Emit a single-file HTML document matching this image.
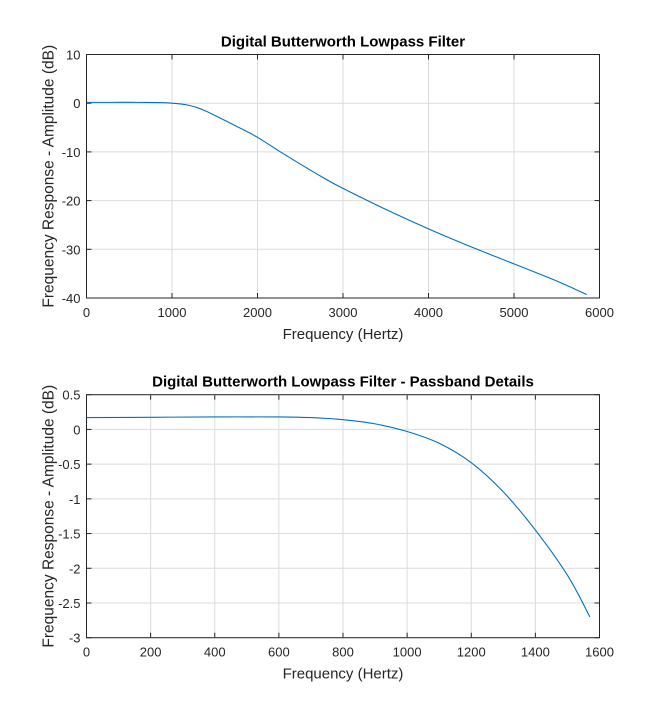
<!DOCTYPE html>
<html><head><meta charset="utf-8">
<style>
body{margin:0;background:#fff;}
svg{display:block;font-family:"Liberation Sans",Arial,sans-serif;}
</style></head>
<body>
<svg id="chart" width="663" height="718" viewBox="0 0 663 718"></svg>
<script>
const topX=[0,300,600,900,1000,1100,1200,1300,1400,1500,1750,2000,2250,2500,2750,3000,3500,4000,4500,5000,5500,5850];
const topY=[0.17,0.17,0.17,0.1,0,-0.15,-0.45,-0.95,-1.65,-2.5,-4.7,-7,-9.8,-12.5,-15.1,-17.5,-21.8,-25.8,-29.5,-33,-36.5,-39.3];
const topXTicks=[0,1000,2000,3000,4000,5000,6000];
const topYTicks=[10,0,-10,-20,-30,-40];
const botX=[0,200,400,600,700,800,900,1000,1100,1200,1300,1400,1500,1570];
const botY=[0.17,0.175,0.18,0.18,0.17,0.14,0.08,-0.03,-0.2,-0.48,-0.9,-1.45,-2.1,-2.7];
const botXTicks=[0,200,400,600,800,1000,1200,1400,1600];
const botYTicks=[0.5,0,-0.5,-1,-1.5,-2,-2.5,-3];
const NS='http://www.w3.org/2000/svg';
const svg=document.getElementById('chart');
function mk(tag,attrs,parent){const e=document.createElementNS(NS,tag);for(const k in attrs)e.setAttribute(k,attrs[k]);(parent||svg).appendChild(e);return e;}
function plot(cfg){
  const {L,R,T,B,xmin,xmax,ymin,ymax,xs,ys,xt,yt,title,id}=cfg;
  const sx=v=>L+(v-xmin)/(xmax-xmin)*(R-L);
  const sy=v=>B-(v-ymin)/(ymax-ymin)*(B-T);
  const g=mk('g',{});
  
  
  mk('rect',{x:L,y:T,width:R-L,height:B-T,fill:'#fff'},g);
  xt.forEach(v=>{
    const l=mk('line',{x1:sx(v),x2:sx(v),y1:T,y2:B,stroke:'#dcdcdc','stroke-width':1},g);
    
    mk('line',{x1:sx(v),x2:sx(v),y1:B,y2:B-5,stroke:'#262626'},g);
    mk('line',{x1:sx(v),x2:sx(v),y1:T,y2:T+5,stroke:'#262626'},g);
    const t=mk('text',{x:sx(v),y:B+19,'text-anchor':'middle','font-size':13,fill:'#262626'},g);
    t.textContent=v;
  });
  yt.forEach(v=>{
    const l=mk('line',{x1:L,x2:R,y1:sy(v),y2:sy(v),stroke:'#dcdcdc','stroke-width':1},g);
    
    mk('line',{x1:L,x2:L+5,y1:sy(v),y2:sy(v),stroke:'#262626'},g);
    mk('line',{x1:R,x2:R-5,y1:sy(v),y2:sy(v),stroke:'#262626'},g);
    const t=mk('text',{x:L-6,y:sy(v)+5,'text-anchor':'end','font-size':13,fill:'#262626'},g);
    t.textContent=v;
  });
  mk('rect',{x:L,y:T,width:R-L,height:B-T,fill:'none',stroke:'#262626','stroke-width':1},g);
  const P=xs.map((x,i)=>[sx(x),sy(ys[i])]);
  let d='M'+P[0][0]+','+P[0][1];
  for(let i=0;i<P.length-1;i++){
    const p0=P[Math.max(0,i-1)],p1=P[i],p2=P[i+1],p3=P[Math.min(P.length-1,i+2)];
    const c1=[p1[0]+(p2[0]-p0[0])/6,p1[1]+(p2[1]-p0[1])/6];
    const c2=[p2[0]-(p3[0]-p1[0])/6,p2[1]-(p3[1]-p1[1])/6];
    d+='C'+c1+' '+c2+' '+p2;
  }
  const path=mk('path',{d:d,fill:'none',stroke:'#0072bd','stroke-width':1.1},g);
  
  
  const tt=mk('text',{x:(L+R)/2,y:T-8,'text-anchor':'middle','font-size':15,'font-weight':'bold',fill:'#000'},g);
  tt.textContent=title;
  const xl=mk('text',{x:(L+R)/2,y:B+41,'text-anchor':'middle','font-size':15,fill:'#262626'},g);
  xl.textContent='Frequency (Hertz)';
  const yl=mk('text',{x:0,y:0,'text-anchor':'middle','font-size':15.5,fill:'#262626',transform:'translate('+(L-33)+','+((T+B)/2)+') rotate(-90)'},g);
  yl.textContent='Frequency Response - Amplitude (dB)';
}
plot({L:86.5,R:599.5,T:54.5,B:298,xmin:0,xmax:6000,ymin:-40,ymax:10,xs:topX,ys:topY,xt:topXTicks,yt:topYTicks,title:'Digital Butterworth Lowpass Filter',id:'top-plot'});
plot({L:86.5,R:599.5,T:394.7,B:637.7,xmin:0,xmax:1600,ymin:-3,ymax:0.5,xs:botX,ys:botY,xt:botXTicks,yt:botYTicks,title:'Digital Butterworth Lowpass Filter - Passband Details',id:'bottom-plot'});
</script>
</body></html>
